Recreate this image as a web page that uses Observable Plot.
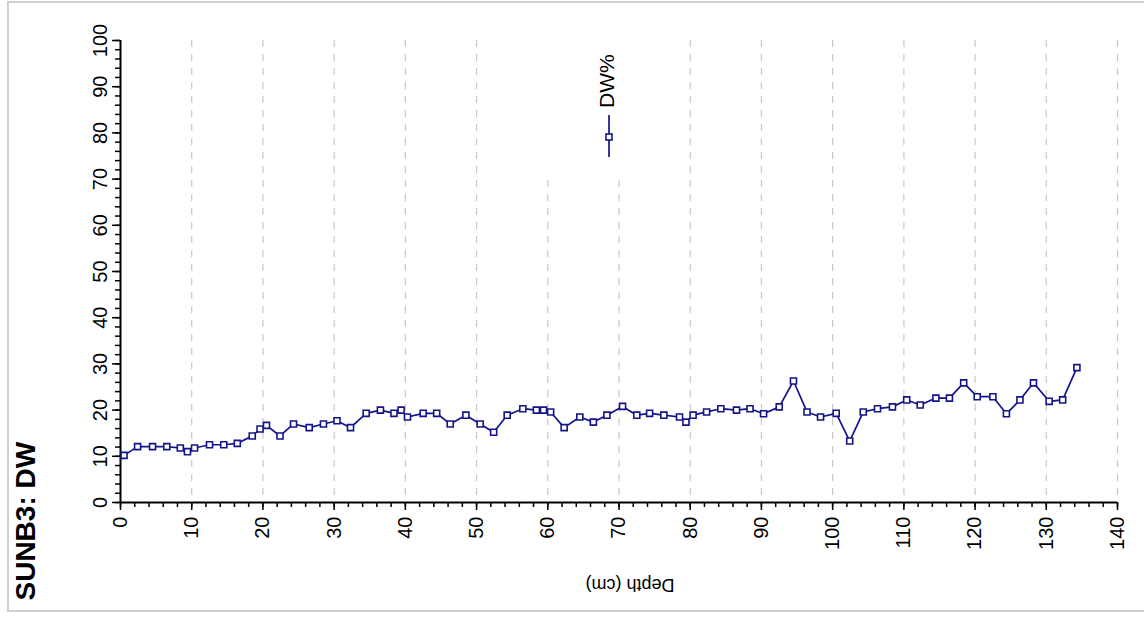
<!DOCTYPE html>
<html>
<head>
<meta charset="utf-8">
<script src="https://cdn.jsdelivr.net/npm/d3@7"></script>
<script src="https://cdn.jsdelivr.net/npm/@observablehq/plot@0.6"></script>
<style>
  body { margin: 0; background: #fff; }
  #wrap { position: relative; width: 1144px; height: 621px; overflow: hidden; font-family: "Liberation Sans", Arial, sans-serif; }
  #border { position: absolute; left: 7px; top: 1px; width: 1200px; height: 611px; border: 2px solid #d0d0d0; box-sizing: border-box; pointer-events: none; }
  #legend { position: absolute; left: 535px; top: 38px; width: 95px; height: 137px; background: #fff; }
  #chart svg { display: block; }
</style>
</head>
<body>
<div id="wrap">
  <div id="chart"></div>
  <div id="legend"></div>
  <div id="border"></div>
</div>
<script>
// Core SUNB3: dry weight (%) against depth (cm)
const depth = [0.5, 2.4, 4.5, 6.5, 8.4, 9.4, 10.4, 12.5, 14.5, 16.4,
  18.5, 19.6, 20.5, 22.4, 24.3, 26.5, 28.5, 30.4, 32.3, 34.5,
  36.5, 38.4, 39.4, 40.3, 42.5, 44.4, 46.3, 48.5, 50.5, 52.4,
  54.3, 56.5, 58.4, 59.4, 60.4, 62.3, 64.5, 66.4, 68.3, 70.5,
  72.5, 74.3, 76.3, 78.5, 79.4, 80.4, 82.3, 84.3, 86.5, 88.4,
  90.3, 92.5, 94.5, 96.4, 98.3, 100.5, 102.4, 104.3, 106.3, 108.4,
  110.4, 112.3, 114.5, 116.4, 118.4, 120.3, 122.5, 124.4, 126.3, 128.2,
  130.4, 132.3, 134.3];
const dwPercent = [10.2, 12.1, 12.1, 12.1, 11.8, 11.0, 11.8, 12.5, 12.5, 12.8,
  14.4, 15.9, 16.7, 14.4, 17.0, 16.2, 17.0, 17.7, 16.2, 19.3,
  20.0, 19.3, 20.0, 18.5, 19.3, 19.3, 17.0, 18.9, 17.0, 15.2,
  18.9, 20.3, 20.0, 20.0, 19.6, 16.2, 18.5, 17.4, 18.9, 20.8,
  18.9, 19.3, 18.9, 18.5, 17.4, 18.9, 19.6, 20.3, 20.0, 20.3,
  19.2, 20.7, 26.3, 19.6, 18.5, 19.3, 13.3, 19.6, 20.3, 20.7,
  22.2, 21.1, 22.6, 22.6, 25.9, 22.9, 22.9, 19.2, 22.2, 25.9,
  21.9, 22.2, 29.2];

const xMajorTicks = d3.range(0, 141, 10);
const xMinorTicks = d3.range(0, 141, 2);
const yMajorTicks = d3.range(0, 101, 10);
const yMinorTicks = d3.range(0, 101, 2);
const gridTicks = d3.range(10, 141, 10);

const title = "SUNB3: DW";
const xLabel = "Depth (cm)";
const seriesName = "DW%";

const lineColor = "#14148a";
const data = depth.map((d, i) => ({depth: d, dw: dwPercent[i]}));

const chart = Plot.plot({
  width: 1144,
  height: 621,
  marginLeft: 120,
  marginRight: 27,
  marginTop: 40,
  marginBottom: 119,
  style: {fontFamily: "'Liberation Sans', Arial, sans-serif", background: "transparent"},
  x: {domain: [0, 140]},
  y: {domain: [0, 100]},
  marks: [
    Plot.gridX(gridTicks, {stroke: "#c8c8c8", strokeOpacity: 1, strokeWidth: 1.2, strokeDasharray: "7,7"}),
    // minor ticks
    Plot.axisX(xMinorTicks, {tickSize: 5, text: null, label: null, stroke: "#000", strokeWidth: 1.5}),
    Plot.axisY(yMinorTicks, {tickSize: 5, text: null, label: null, stroke: "#000", strokeWidth: 1.5}),
    // major ticks with rotated labels
    Plot.axisX(xMajorTicks, {tickSize: 8, tickPadding: 6, tickRotate: -90, fontSize: 20, stroke: "#000", strokeWidth: 1.5, fill: "#000", label: null}),
    Plot.axisY(yMajorTicks, {tickSize: 8, tickPadding: 6, tickRotate: -90, fontSize: 20, stroke: "#000", strokeWidth: 1.5, fill: "#000", label: null}),
    Plot.ruleY([0], {stroke: "#000", strokeWidth: 2}),
    Plot.ruleX([0], {stroke: "#000", strokeWidth: 2}),
    Plot.line(data, {x: "depth", y: "dw", stroke: lineColor, strokeWidth: 1.7}),
    Plot.dot(data, {x: "depth", y: "dw", symbol: "square", r: 3.4, fill: "#fff", stroke: lineColor, strokeWidth: 1.6}),
    // upside-down axis label and sideways title
    Plot.text([xLabel], {frameAnchor: "bottom", dx: 11, dy: 76, rotate: 180, fontSize: 18, fill: "#000"}),
    Plot.text([title], {frameAnchor: "bottom-left", dx: -86, dy: 98, rotate: -90, textAnchor: "start", fontSize: 28, fontWeight: "bold", fill: "#000"})
  ]
});
document.getElementById("chart").appendChild(chart);

// series key: vertical line with a square marker and the series name above it
const leg = d3.select("#legend").append("svg").attr("width", 95).attr("height", 137);
leg.append("line").attr("x1", 74).attr("x2", 74).attr("y1", 77).attr("y2", 119)
  .attr("stroke", lineColor).attr("stroke-width", 1.7);
leg.append("rect").attr("x", 74 - 3).attr("y", 99 - 3).attr("width", 6).attr("height", 6)
  .attr("fill", "#fff").attr("stroke", lineColor).attr("stroke-width", 1.6);
leg.append("text").attr("transform", "translate(71,70) rotate(-90)")
  .attr("dominant-baseline", "central").attr("font-size", 21)
  .attr("font-family", "'Liberation Sans', Arial, sans-serif").text(seriesName);
</script>
</body>
</html>
